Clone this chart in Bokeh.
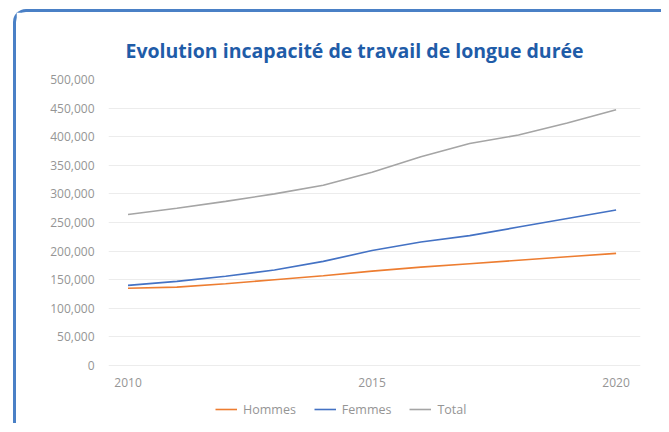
from bokeh.plotting import figure
from bokeh.models import (Legend, LegendItem, NumeralTickFormatter, FixedTicker,
                          Range1d, Title)
from bokeh.embed import file_html
from bokeh.resources import INLINE

years = [2010, 2011, 2012, 2013, 2014, 2015, 2016, 2017, 2018, 2019, 2020]
hommes = [135000, 137000, 143000, 150000, 157000, 165000, 172000, 178000, 184000, 190000, 196000]
femmes = [140000, 147000, 156000, 167000, 182000, 201000, 216000, 227000, 242000, 257000, 272000]
total = [264000, 275000, 287000, 300000, 315000, 338000, 365000, 388000, 403000, 424000, 447000]
x_ticks = [2010, 2015, 2020]
y_ticks = [0, 50000, 100000, 150000, 200000, 250000, 300000, 350000, 400000, 450000, 500000]
title_text = "Evolution incapacité de travail de longue durée"
series_names = ["Hommes", "Femmes", "Total"]

# y range extends below 0 to leave room for the legend inside the frame
p = figure(width=648, height=414, output_backend="svg", toolbar_location=None,
           x_range=Range1d(2009.6, 2020.5), y_range=Range1d(-96150, 500000),
           min_border_left=92, min_border_right=24, min_border_top=67, min_border_bottom=6,
           margin=(9, 0, 0, 13),
           styles={"border-left": "3px solid #4a80c6", "border-top": "3px solid #4a80c6",
                   "border-top-left-radius": "13px"})

p.title = Title(text=title_text, align="left", text_font="Open Sans",
                text_font_size="19.5px", text_font_style="bold", text_color="#1f5ca8",
                offset=17, standoff=32)
p.outline_line_color = None
p.background_fill_color = "white"
p.border_fill_color = "white"

p.xgrid.grid_line_color = None
p.ygrid.grid_line_color = "#ececec"
p.ygrid.grid_line_width = 1

p.yaxis.ticker = FixedTicker(ticks=y_ticks)
p.yaxis.formatter = NumeralTickFormatter(format="0,0")
p.xaxis.ticker = FixedTicker(ticks=x_ticks)
p.xaxis.fixed_location = 0
for ax in (p.xaxis[0], p.yaxis[0]):
    ax.axis_line_color = None
    ax.major_tick_line_color = None
    ax.minor_tick_line_color = None
    ax.major_label_text_color = "#959595"
    ax.major_label_text_font = "Open Sans"
    ax.major_label_text_font_size = "12px"
p.yaxis.major_label_standoff = 8
p.xaxis.major_label_standoff = 6

r1 = p.line(years, hommes, line_color="#ed7d31", line_width=1.6)
r2 = p.line(years, femmes, line_color="#4472c4", line_width=1.6)
r3 = p.line(years, total, line_color="#a5a5a5", line_width=1.6)

legend = Legend(items=[LegendItem(label=series_names[0], renderers=[r1]),
                       LegendItem(label=series_names[1], renderers=[r2]),
                       LegendItem(label=series_names[2], renderers=[r3])],
                orientation="horizontal", location=(107, 1),
                label_text_font="Open Sans", label_text_font_size="12.5px",
                label_text_color="#959595", border_line_color=None,
                background_fill_alpha=0, glyph_width=22, label_standoff=6,
                spacing=18, padding=0, margin=0)
p.add_layout(legend)

open("out.html", "w").write(file_html(p, INLINE))
